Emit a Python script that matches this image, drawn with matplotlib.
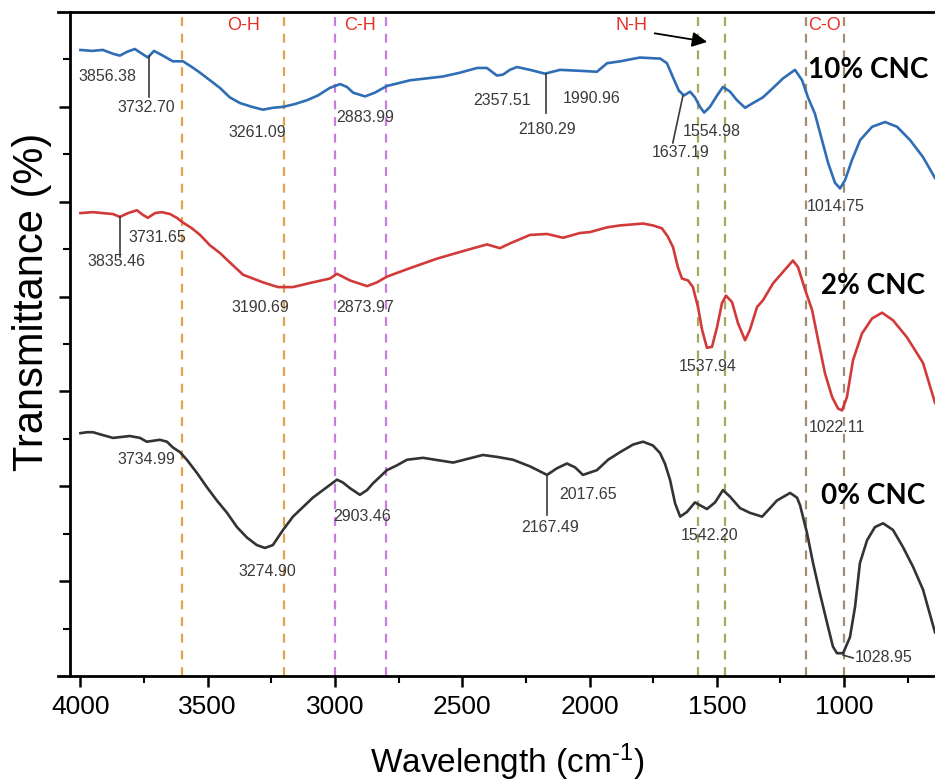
import matplotlib
matplotlib.use("Agg")
import matplotlib.pyplot as plt
from matplotlib.ticker import FixedLocator

plt.rcParams["mathtext.fontset"] = "custom"
plt.rcParams["mathtext.rm"] = "Liberation Sans"
plt.rcParams["mathtext.default"] = "regular"

# ---------------- data ----------------
w_10 = [4000, 3955, 3912, 3872, 3845, 3817, 3786, 3758, 3735, 3711, 3676, 3637, 3597, 3562,
        3530, 3491, 3452, 3413, 3373, 3326, 3283, 3244, 3204, 3157, 3110, 3067, 3020, 2980,
        2953, 2929, 2882, 2843, 2796, 2705, 2576, 2509, 2442, 2403, 2364, 2340, 2313, 2285,
        2234, 2175, 2116, 2038, 1971, 1931, 1880, 1802, 1735,
        1723, 1696, 1672, 1649, 1629, 1605, 1586, 1566, 1550, 1527, 1499, 1476, 1448, 1421,
        1389, 1358, 1319, 1279, 1240, 1193, 1165, 1142, 1115, 1087, 1063, 1036, 1016, 996,
        969, 937, 890, 839, 792, 741, 690, 643]
t_10 = [6.60, 6.59, 6.60, 6.56, 6.54, 6.58, 6.61, 6.56, 6.52, 6.59, 6.54, 6.48, 6.48, 6.42,
        6.36, 6.28, 6.20, 6.10, 6.04, 6.00, 5.97, 5.99, 6.00, 6.03, 6.07, 6.12, 6.20, 6.24,
        6.21, 6.15, 6.11, 6.15, 6.22, 6.28, 6.32, 6.36, 6.41, 6.41, 6.33, 6.34, 6.39, 6.42,
        6.39, 6.35, 6.39, 6.38, 6.37, 6.46, 6.48, 6.52, 6.51,
        6.51, 6.46, 6.31, 6.17, 6.12, 6.16, 6.10, 6.00, 5.94, 6.00, 6.12, 6.21, 6.16, 6.07,
        5.99, 6.04, 6.10, 6.20, 6.30, 6.39, 6.28, 6.10, 5.93, 5.65, 5.41, 5.20, 5.14, 5.23,
        5.44, 5.65, 5.79, 5.84, 5.79, 5.65, 5.47, 5.25]

w_2 = [4000, 3951, 3912, 3872, 3845, 3813, 3778, 3754, 3735, 3707, 3680, 3648, 3621, 3597,
       3562, 3530, 3491, 3452, 3413, 3361, 3322, 3283, 3224, 3165, 3087, 3020, 2992, 2941,
       2874, 2835, 2796, 2705, 2599, 2509, 2403, 2352, 2313, 2234, 2167, 2104, 2038, 1998,
       1931, 1880, 1790, 1751, 1716, 1692, 1672, 1653, 1637, 1613, 1594, 1574, 1558, 1539,
       1519, 1499, 1480, 1464, 1440, 1417, 1389, 1370, 1342, 1319, 1279, 1240, 1201, 1181,
       1153, 1126, 1102, 1075, 1047, 1024, 1008, 989, 965, 930, 890, 851, 808, 753, 690, 643]
t_2 = [4.88, 4.89, 4.88, 4.87, 4.84, 4.88, 4.91, 4.86, 4.83, 4.88, 4.89, 4.87, 4.83, 4.78,
       4.72, 4.65, 4.54, 4.46, 4.36, 4.23, 4.19, 4.15, 4.10, 4.10, 4.15, 4.19, 4.24, 4.17,
       4.11, 4.15, 4.21, 4.30, 4.40, 4.47, 4.55, 4.51, 4.56, 4.65, 4.66, 4.62, 4.67, 4.68,
       4.73, 4.75, 4.77, 4.75, 4.72, 4.63, 4.52, 4.31, 4.19, 4.17, 4.10, 3.89, 3.65, 3.46,
       3.47, 3.68, 3.93, 4.01, 3.94, 3.72, 3.54, 3.65, 3.89, 3.96, 4.14, 4.26, 4.38, 4.31,
       4.07, 3.86, 3.54, 3.19, 2.94, 2.82, 2.80, 2.94, 3.33, 3.61, 3.77, 3.83, 3.75, 3.57,
       3.30, 2.88]

w_0 = [4000, 3974, 3951, 3912, 3872, 3806, 3766, 3739, 3688, 3660, 3637, 3609, 3582, 3542,
       3503, 3464, 3424, 3385, 3346, 3307, 3275, 3244, 3204, 3165, 3126, 3087, 3032, 2992,
       2969, 2941, 2902, 2874, 2851, 2796, 2757, 2717, 2654, 2536, 2419, 2364, 2301, 2234,
       2167, 2128, 2089, 2057, 2026, 1971, 1927, 1880, 1829, 1790, 1751, 1723, 1704, 1684,
       1664, 1644, 1617, 1586, 1566, 1539, 1507, 1476, 1448, 1409, 1370, 1322, 1291, 1264,
       1212, 1185, 1173, 1146, 1122, 1095, 1067, 1044, 1028, 1004, 977, 957, 938, 910, 879,
       847, 808, 769, 729, 690, 643]
t_0 = [2.56, 2.57, 2.57, 2.54, 2.51, 2.53, 2.51, 2.47, 2.49, 2.47, 2.41, 2.36, 2.28, 2.14,
       1.99, 1.85, 1.72, 1.57, 1.46, 1.38, 1.35, 1.38, 1.54, 1.68, 1.78, 1.88, 1.99, 2.07,
       2.04, 1.98, 1.91, 1.96, 2.03, 2.17, 2.22, 2.28, 2.30, 2.25, 2.33, 2.31, 2.28, 2.21,
       2.12, 2.19, 2.24, 2.20, 2.12, 2.17, 2.28, 2.36, 2.44, 2.47, 2.43, 2.35, 2.24, 2.07,
       1.82, 1.68, 1.73, 1.83, 1.80, 1.76, 1.83, 1.96, 1.89, 1.77, 1.72, 1.68, 1.77, 1.85,
       1.93, 1.88, 1.80, 1.51, 1.19, 0.87, 0.56, 0.31, 0.24, 0.24, 0.41, 0.73, 1.19, 1.43,
       1.57, 1.61, 1.54, 1.36, 1.15, 0.91, 0.46]

series_names = ["10% CNC", "2% CNC", "0% CNC"]
series_colors = ["#2f6db5", "#d23a3a", "#333333"]

band_names = ["O-H", "C-H", "N-H", "C-O"]
band_lines = [(3600, 3200), (3000, 2800), (1574, 1468), (1150, 1000)]
band_colors = ["#e3a24e", "#c67edb", "#a6a85c", "#a48d70"]

xticks_major = [4000, 3500, 3000, 2500, 2000, 1500, 1000]

# peak labels: (text, x, y)
peak_labels = [
    ("3856.38", 3892, 6.32), ("3732.70", 3742, 5.99), ("3261.09", 3307, 5.73),
    ("2883.99", 2882, 5.89), ("2357.51", 2344, 6.07), ("2180.29", 2167, 5.76),
    ("1990.96", 1990, 6.09), ("1637.19", 1644, 5.52), ("1554.98", 1519, 5.74),
    ("1014.75", 1032, 4.95),
    ("3731.65", 3699, 4.62), ("3835.46", 3857, 4.37), ("3190.69", 3295, 3.89),
    ("2873.97", 2882, 3.89), ("1537.94", 1535, 3.26), ("1022.11", 1028, 2.62),
    ("3734.99", 3739, 2.28), ("3274.90", 3267, 1.10), ("2903.46", 2894, 1.68),
    ("2167.49", 2156, 1.57), ("2017.65", 2006, 1.91), ("1542.20", 1527, 1.48),
]
# leader lines ((x0, y0), (x1, y1))
leaders = [
    ((3731, 6.54), (3731, 6.10)),
    ((2171, 6.35), (2171, 5.93)),
    ((1633, 6.12), (1673, 5.62)),
    ((3845, 4.84), (3845, 4.42)),
    ((2167, 2.12), (2167, 1.70)),
    ((1004, 0.22), (965, 0.19)),
]

# ---------------- figure ----------------
fig = plt.figure(figsize=(9.35, 7.84), dpi=100)
ax = fig.add_axes([58 / 935, 108 / 784, 877 / 935, 664 / 784])

for (a, b), c in zip(band_lines, band_colors):
    for v in (a, b):
        ax.axvline(v, color=c, lw=1.6, ls=(0, (4, 3.5)), zorder=1)

for w, t, c in zip([w_10, w_2, w_0], [t_10, t_2, t_0], series_colors):
    ax.plot(w, t, color=c, lw=1.9, zorder=3, solid_joinstyle="round")

txt_c = "#3a3a3a"
for s, x, y in peak_labels:
    ax.text(x, y, s, ha="center", va="center", fontsize=11.5, color=txt_c,
            family="Liberation Sans", zorder=4)
ax.text(957, 0.20, "1028.95", ha="left", va="center", fontsize=11.5, color=txt_c,
        family="Liberation Sans", zorder=4)
for (x0, y0), (x1, y1) in leaders:
    ax.plot([x0, x1], [y0, y1], color=txt_c, lw=1.2, zorder=4)

for name, x, y in zip(series_names, [906, 886, 886], [6.39, 4.11, 1.90]):
    ax.text(x, y, name, ha="center", va="center",
            fontsize=20, fontweight="bold", family="Lato", color="black", zorder=5)

for name, x in zip(band_names, [3361, 2902, 1834, 1076]):
    ax.text(x, 6.86, name, ha="center", va="center", fontsize=13, color="#e8302a",
            family="Liberation Sans")
ax.annotate("", xy=(1527, 6.68), xytext=(1755, 6.78),
            arrowprops=dict(arrowstyle="-|>,head_length=0.9,head_width=0.45",
                            color="black", lw=1.3))

ax.set_xlim(4088, 643)
ax.set_ylim(0, 7)
ax.spines["right"].set_visible(False)
ax.spines["left"].set_position(("data", 4041))
for sp in ax.spines.values():
    sp.set_linewidth(2.0)

ax.xaxis.set_major_locator(FixedLocator(xticks_major))
ax.xaxis.set_minor_locator(FixedLocator([3750, 3250, 2750, 2250, 1750, 1250, 750]))
ax.yaxis.set_major_locator(FixedLocator([1, 2, 3, 4, 5, 6]))
ax.yaxis.set_minor_locator(FixedLocator([0.5, 1.5, 2.5, 3.5, 4.5, 5.5, 6.5]))
ax.tick_params(which="major", direction="out", length=8, width=1.8)
ax.tick_params(which="minor", direction="out", length=5, width=1.5)
ax.tick_params(axis="y", labelleft=False)
ax.tick_params(axis="x", labelsize=19, pad=6)
for lab in ax.get_xticklabels():
    lab.set_family("Liberation Sans")

fig.text(507 / 935, 1 - 762 / 784, r"Wavelength (cm$^{\text{-1}}$)", ha="center",
         va="center", fontsize=24, family="Liberation Sans")
fig.text(32 / 935, 1 - 302 / 784, "Transmittance (%)", ha="center", va="center",
         rotation=90, fontsize=30, family="Liberation Sans")

fig.savefig("out.png", dpi=100)
